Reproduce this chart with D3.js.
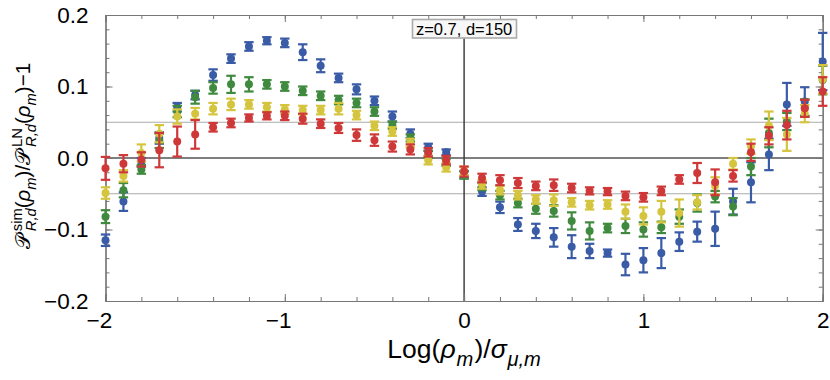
<!DOCTYPE html>
<html>
<head>
<meta charset="utf-8">
<script src="https://cdn.jsdelivr.net/npm/d3@7"></script>
<style>
  body { margin: 0; background: #fff; }
  text { font-family: "Liberation Sans", Arial, sans-serif; }
</style>
</head>
<body>
<div id="chart"></div>
<script>
// bin centres, Log(rho)/sigma
const xs = [-2.0,-1.9,-1.8,-1.7,-1.6,-1.5,-1.4,-1.3,-1.2,-1.1,-1.0,-0.9,-0.8,-0.7,-0.6,-0.5,-0.4,-0.3,-0.2,-0.1,
            0.0,0.1,0.2,0.3,0.4,0.5,0.6,0.7,0.8,0.9,1.0,1.1,1.2,1.3,1.4,1.5,1.6,1.7,1.8,1.9,2.0];

const blueVals = [-0.115,-0.061,-0.006,0.028,0.071,0.088,0.116,0.139,0.156,0.164,0.161,0.148,0.129,0.112,0.096,0.080,0.058,0.034,0.015,0.008,
                  -0.023,-0.047,-0.069,-0.093,-0.102,-0.111,-0.124,-0.130,-0.133,-0.149,-0.143,-0.133,-0.117,-0.103,-0.099,-0.061,-0.034,0.005,0.075,0.079,0.135];
const blueErr = [0.008,0.013,0.006,0.008,0.006,0.006,0.008,0.006,0.006,0.005,0.006,0.011,0.009,0.006,0.007,0.006,0.007,0.006,0.005,0.004,
                 0.005,0.006,0.008,0.009,0.010,0.013,0.016,0.010,0.005,0.015,0.017,0.021,0.013,0.014,0.024,0.018,0.028,0.022,0.030,0.020,0.040];

const greenVals = [-0.082,-0.045,-0.016,0.024,0.065,0.085,0.098,0.103,0.103,0.103,0.100,0.094,0.087,0.081,0.077,0.065,0.046,0.028,0.005,-0.006,
                   -0.024,-0.040,-0.052,-0.063,-0.071,-0.074,-0.088,-0.102,-0.098,-0.095,-0.100,-0.097,-0.082,-0.063,-0.054,-0.068,-0.012,0.035,0.051,0.070,0.109];
const greenErr = [0.009,0.010,0.006,0.010,0.008,0.009,0.008,0.012,0.010,0.006,0.006,0.006,0.006,0.006,0.006,0.006,0.005,0.005,0.005,0.005,
                  0.005,0.005,0.006,0.006,0.007,0.008,0.012,0.012,0.006,0.010,0.010,0.008,0.010,0.012,0.008,0.012,0.012,0.020,0.012,0.012,0.020];

const yellowVals = [-0.049,-0.025,0.007,0.034,0.058,0.062,0.069,0.075,0.075,0.071,0.068,0.067,0.067,0.069,0.060,0.045,0.037,0.021,-0.003,-0.013,
                    -0.018,-0.037,-0.045,-0.052,-0.058,-0.059,-0.062,-0.066,-0.065,-0.075,-0.081,-0.075,-0.077,-0.062,-0.039,-0.008,0.016,0.045,0.033,0.062,0.110];
const yellowErr = [0.008,0.008,0.012,0.012,0.010,0.008,0.008,0.008,0.006,0.006,0.006,0.006,0.006,0.008,0.006,0.006,0.006,0.006,0.006,0.006,
                   0.006,0.006,0.006,0.006,0.006,0.008,0.006,0.006,0.006,0.010,0.012,0.015,0.019,0.010,0.012,0.008,0.010,0.020,0.023,0.012,0.020];

const redVals = [-0.0145,-0.008,-0.002,0.011,0.023,0.033,0.043,0.049,0.056,0.059,0.059,0.055,0.048,0.042,0.032,0.025,0.016,0.012,0.008,-0.003,
                 -0.019,-0.028,-0.031,-0.035,-0.039,-0.038,-0.042,-0.046,-0.047,-0.053,-0.055,-0.046,-0.030,-0.021,-0.034,-0.025,0.008,0.031,0.046,0.0695,0.093];
const redErr = [0.016,0.012,0.010,0.024,0.021,0.020,0.006,0.006,0.005,0.005,0.006,0.007,0.006,0.007,0.008,0.008,0.007,0.007,0.006,0.006,
                0.007,0.006,0.007,0.007,0.006,0.008,0.006,0.005,0.005,0.006,0.006,0.006,0.006,0.014,0.018,0.008,0.012,0.012,0.020,0.012,0.020];

const xTickVals = [-2, -1, 0, 1, 2];
const xTickLabels = ["\u22122", "\u22121", "0", "1", "2"];
const yTickVals = [-0.2, -0.1, 0, 0.1, 0.2];
const yTickLabels = ["\u22120.2", "\u22120.1", "0.0", "0.1", "0.2"];
const refLines = [-0.05, 0.05];
const annotation = "z=0.7, d=150";

const width = 830, height = 380;
const plotL = 105.5, plotR = 822.7, plotT = 15, plotB = 301;
const tickFont = 22.5;

const svg = d3.select('#chart').append('svg')
    .attr('width', width)
    .attr('height', height);

const x = d3.scaleLinear().domain([-2, 2]).range([plotL, plotR]);
const y = d3.scaleLinear().domain([-0.2, 0.2]).range([plotB, plotT]);

// reference lines
svg.selectAll('.ref')
    .data(refLines)
    .enter()
    .append('line')
    .attr('x1', plotL).attr('x2', plotR)
    .attr('y1', d => y(d)).attr('y2', d => y(d))
    .attr('stroke', '#aaa')
    .attr('stroke-width', 1.2);

svg.append('line')
    .attr('x1', plotL).attr('x2', plotR)
    .attr('y1', y(0)).attr('y2', y(0))
    .attr('stroke', '#555').attr('stroke-width', 1.4);

svg.append('line')
    .attr('x1', x(0)).attr('x2', x(0))
    .attr('y1', plotT).attr('y2', plotB)
    .attr('stroke', '#333').attr('stroke-width', 1.4);

// frame ticks, pointing inward
const tickStyle = g => {
    g.select('.domain').attr('stroke', '#777').attr('stroke-width', 1.2);
    g.selectAll('.tick line').attr('stroke', '#777');
    g.selectAll('text').attr('font-size', tickFont).attr('fill', '#000')
        .attr('font-family', '"Liberation Sans", Arial, sans-serif');
};

const gx = svg.append('g').attr('transform', `translate(0,${plotB})`)
    .call(d3.axisBottom(x).tickValues(xTickVals).tickSize(-7).tickPadding(11)
        .tickFormat((d, i) => xTickLabels[i]))
    .call(tickStyle);
gx.selectAll('text')
    .attr('text-anchor', (d, i) => xTickVals[i] < 0 ? 'end' : 'middle')
    .attr('x', (d, i) => xTickVals[i] < 0 ? 6.2 : 0);

svg.append('g').attr('transform', `translate(0,${plotB})`)
    .call(d3.axisBottom(x).ticks(20).tickSize(-4).tickFormat(''))
    .call(tickStyle);

svg.append('g').attr('transform', `translate(0,${plotT})`)
    .call(d3.axisTop(x).tickValues(xTickVals).tickSize(-7).tickFormat(''))
    .call(tickStyle);
svg.append('g').attr('transform', `translate(0,${plotT})`)
    .call(d3.axisTop(x).ticks(20).tickSize(-4).tickFormat(''))
    .call(tickStyle);

svg.append('g').attr('transform', `translate(${plotL},0)`)
    .call(d3.axisLeft(y).tickValues(yTickVals).tickSize(-7).tickPadding(17)
        .tickFormat((d, i) => yTickLabels[i]))
    .call(tickStyle);
svg.append('g').attr('transform', `translate(${plotL},0)`)
    .call(d3.axisLeft(y).ticks(20).tickSize(-4).tickFormat(''))
    .call(tickStyle);

svg.append('g').attr('transform', `translate(${plotR},0)`)
    .call(d3.axisRight(y).tickValues(yTickVals).tickSize(-7).tickFormat(''))
    .call(tickStyle);
svg.append('g').attr('transform', `translate(${plotR},0)`)
    .call(d3.axisRight(y).ticks(20).tickSize(-4).tickFormat(''))
    .call(tickStyle);

// data series, drawn blue -> green -> yellow -> red
const series = [
    { vals: blueVals, errs: blueErr, color: '#3a5ba6' },
    { vals: greenVals, errs: greenErr, color: '#3f8a3e' },
    { vals: yellowVals, errs: yellowErr, color: '#d5c53e' },
    { vals: redVals, errs: redErr, color: '#cf3838' }
];

series.forEach(s => {
    const pts = xs.map((xv, i) => ({ x: xv, v: s.vals[i], e: s.errs[i] }));
    const g = svg.append('g').attr('stroke', s.color).attr('fill', s.color);
    const cap = 4.7;

    const bars = g.selectAll('.bar').data(pts).enter().append('g');
    bars.append('line')
        .attr('x1', d => x(d.x)).attr('x2', d => x(d.x))
        .attr('y1', d => y(d.v - d.e)).attr('y2', d => y(d.v + d.e))
        .attr('stroke-width', 2.2);
    bars.append('line')
        .attr('x1', d => x(d.x) - cap).attr('x2', d => x(d.x) + cap)
        .attr('y1', d => y(d.v + d.e)).attr('y2', d => y(d.v + d.e))
        .attr('stroke-width', 2.2);
    bars.append('line')
        .attr('x1', d => x(d.x) - cap).attr('x2', d => x(d.x) + cap)
        .attr('y1', d => y(d.v - d.e)).attr('y2', d => y(d.v - d.e))
        .attr('stroke-width', 2.2);

    g.selectAll('circle').data(pts).enter().append('circle')
        .attr('cx', d => x(d.x))
        .attr('cy', d => y(d.v))
        .attr('r', 4)
        .attr('stroke', 'none');
});

// annotation box
const ann = svg.append('g');
ann.append('rect')
    .attr('x', 412.5).attr('y', 19.5).attr('width', 104).attr('height', 18.5)
    .attr('fill', '#f7f7f7').attr('stroke', '#aaa').attr('stroke-width', 1.6);
ann.append('text')
    .attr('x', x(0)).attr('y', 34.5)
    .attr('text-anchor', 'middle')
    .attr('font-size', 16.5)
    .text(annotation);

// math-ish labels built from pieces
const SANS = '"Liberation Sans", Arial, sans-serif';
const SERIF = '"Liberation Serif", "Times New Roman", serif';

function mathLabel(g, parts, size, subScale) {
    let pos = 0;
    const put = (p, at, dy, fs) => {
        const t = g.append('text')
            .attr('x', at).attr('y', dy)
            .attr('font-size', fs)
            .attr('font-family', p.serif ? SERIF : SANS)
            .attr('font-style', p.it ? 'italic' : 'normal')
            .text(p.t);
        return t.node().getComputedTextLength() + (p.gap || 0) * size;
    };
    parts.forEach(p => {
        if (p.stack) {
            const w1 = put(p.stack[0], pos, -size * 0.4, size * subScale);
            const w2 = put(p.stack[1], pos, size * 0.3, size * subScale);
            pos += Math.max(w1, w2);
        } else if (p.sub) {
            pos += put(p, pos, size * 0.3, size * subScale);
        } else {
            pos += put(p, pos, 0, size);
        }
    });
    return pos;
}

const yTitleParts = [
    { t: '\u{1D4AB}', serif: true, gap: 0.14 },
    { stack: [{ t: 'sim' }, { t: 'R,d', it: true }] },
    { t: '(' }, { t: '\u03C1', it: true, serif: true }, { t: 'm', it: true, sub: true }, { t: ')/' },
    { t: '\u{1D4AB}', serif: true, gap: 0.14 },
    { stack: [{ t: 'LN' }, { t: 'R,d', it: true }] },
    { t: '(' }, { t: '\u03C1', it: true, serif: true }, { t: 'm', it: true, sub: true }, { t: ')\u22121' }
];
const yTitle = svg.append('g');
const yw = mathLabel(yTitle, yTitleParts, 20.5, 0.72);
yTitle.attr('transform', `translate(30,${156 + yw / 2}) rotate(-90)`);

const xTitleParts = [
    { t: 'Log(' }, { t: '\u03C1', it: true, serif: true, gap: 0.03 }, { t: 'm', it: true, sub: true, gap: 0.05 }, { t: ')/' },
    { t: '\u03C3', it: true, serif: true, gap: 0.03 }, { t: '\u03BC,m', it: true, sub: true, serif: true }
];
const xTitle = svg.append('g');
const xw = mathLabel(xTitle, xTitleParts, 26.5, 0.76);
xTitle.attr('transform', `translate(${x(0) - xw / 2},358)`);
</script>
</body>
</html>
